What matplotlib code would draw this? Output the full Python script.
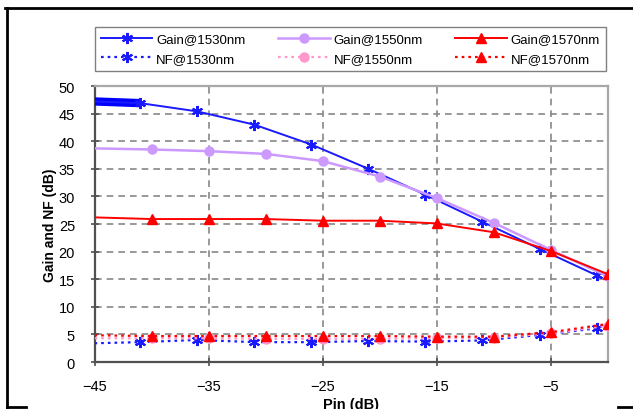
import matplotlib
matplotlib.use("Agg")
import matplotlib.pyplot as plt
from matplotlib.lines import Line2D

x_1530 = [-45, -41, -36, -31, -26, -21, -16, -11, -6, -1]
gain_1530 = [47.2, 46.9, 45.4, 43.0, 39.4, 35.0, 30.3, 25.4, 20.5, 15.7]
nf_1530 = [3.4, 3.6, 4.0, 3.6, 3.6, 3.8, 3.7, 3.9, 4.9, 6.1]

x_15xx = [-45, -40, -35, -30, -25, -20, -15, -10, -5, 0]
gain_1550 = [38.7, 38.5, 38.2, 37.7, 36.4, 33.6, 29.7, 25.2, 20.3, 15.5]
nf_1550 = [4.3, 4.3, 4.3, 4.2, 4.2, 4.2, 4.3, 4.4, 5.2, 6.6]
gain_1570 = [26.2, 25.9, 25.9, 25.9, 25.6, 25.6, 25.1, 23.5, 20.1, 15.9]
nf_1570 = [4.85, 4.7, 4.7, 4.7, 4.7, 4.7, 4.6, 4.6, 5.4, 6.9]

labels = ["Gain@1530nm", "NF@1530nm", "Gain@1550nm", "NF@1550nm",
          "Gain@1570nm", "NF@1570nm"]
x_ticks = [-45, -35, -25, -15, -5]
y_ticks = list(range(0, 51, 5))

plt.rcParams["font.family"] = ["Liberation Sans", "DejaVu Sans"]

fig = plt.figure(figsize=(6.33, 4.10), dpi=100)
ax = fig.add_axes([0.1493, 0.1146, 0.8112, 0.6732])

blue = "#1a1aff"
purple = "#cc99ff"
red = "#ff0000"
pink = "#ff99cc"
dots = (0, (1.2, 1.8))
mk = slice(1, None)
star = (6, 2, 0)

# thick lead-in on the 1530 gain curve
ax.plot(x_1530[:2], gain_1530[:2], color="#0000ff", lw=6, solid_capstyle="butt", zorder=3)

h1, = ax.plot(x_1530, gain_1530, color=blue, lw=1.4, marker=star, ms=8, mew=1.5,
              markevery=mk, zorder=4)
h3, = ax.plot(x_15xx, gain_1550, color=purple, lw=1.8, marker="o", ms=6.5,
              markevery=mk, zorder=4)
h5, = ax.plot(x_15xx, gain_1570, color=red, lw=1.4, marker="^", ms=7.5,
              markevery=mk, zorder=4)
h2, = ax.plot(x_1530, nf_1530, color=blue, lw=1.6, ls=dots, marker=star, ms=8, mew=1.5,
              markevery=mk, zorder=4)
h4, = ax.plot(x_15xx, nf_1550, color=pink, lw=1.6, ls=dots, marker="o", ms=6.5,
              markevery=mk, zorder=4)
h6, = ax.plot(x_15xx, nf_1570, color=red, lw=1.6, ls=dots, marker="^", ms=7.5,
              markevery=mk, zorder=4)

ax.set_xlim(-45, 0)
ax.set_ylim(0, 50)
ax.set_xticks(x_ticks)
ax.set_yticks(y_ticks)
ax.grid(True, color="#888888", lw=1.2, ls=(0, (4, 3)))
ax.set_axisbelow(True)

for side in ["left", "bottom"]:
    ax.spines[side].set_color("#505050")
    ax.spines[side].set_linewidth(1.6)
for side in ["top", "right"]:
    ax.spines[side].set_color("#a8a8a8")
    ax.spines[side].set_linewidth(1.6)

ax.tick_params(axis="both", direction="inout", length=6, width=1.2, color="#505050",
               labelsize=10.5)
ax.tick_params(axis="y", pad=11)
ax.tick_params(axis="x", pad=9)

ax.set_ylabel("Gain and NF (dB)", fontsize=10, fontweight="bold")
ax.yaxis.set_label_coords(-0.074, 0.5)
ax.set_xlabel("Pin (dB)", fontsize=10.5, fontweight="bold")
ax.xaxis.set_label_coords(0.5, -0.127)

fig.legend([h1, h2, h3, h4, h5, h6], labels, ncol=3, mode="expand",
           loc="upper left", bbox_to_anchor=(95 / 633, 1 - 73 / 410, 511 / 633, 45 / 410),
           borderaxespad=0, fontsize=9.5, handlelength=3.9, handletextpad=0.3,
           columnspacing=2.2, borderpad=0.45, labelspacing=0.55, fancybox=False,
           framealpha=1, edgecolor="#808080")

# outer frame around the picture
for xs, ys in [([5 / 633, 1], [1 - 9 / 410, 1 - 9 / 410]),
               ([7 / 633, 7 / 633], [1 - 9 / 410, 0]),
               ([7 / 633, 26 / 633], [2.5 / 410, 2.5 / 410]),
               ([618 / 633, 1], [2.5 / 410, 2.5 / 410])]:
    fig.add_artist(Line2D(xs, ys, transform=fig.transFigure, color="black", lw=2))

fig.savefig("out.png", dpi=100)
